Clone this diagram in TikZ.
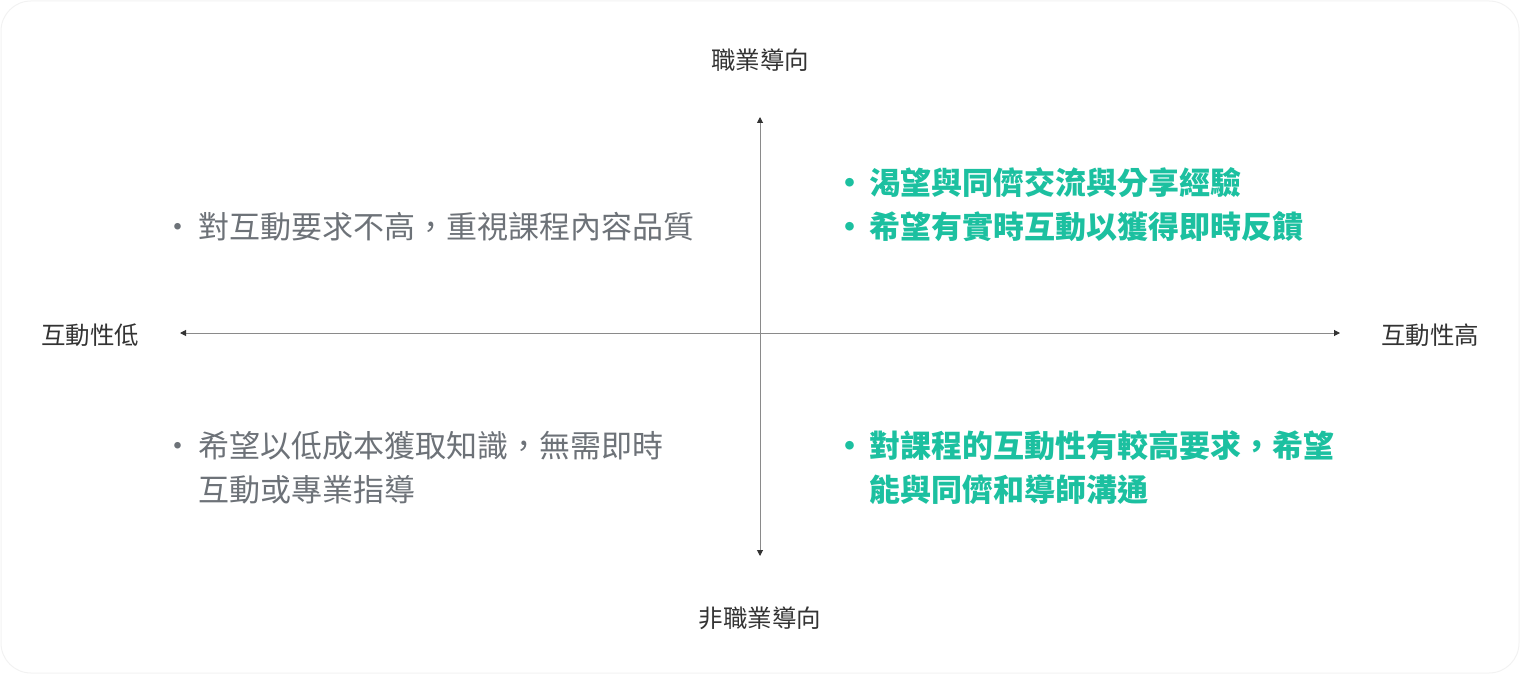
\documentclass[tikz,border=0pt]{standalone}
\usepackage{fontspec}
\setmainfont{Noto Sans CJK TC}
\usetikzlibrary{arrows.meta}
\definecolor{teal1}{HTML}{1CC0A0}
\definecolor{graytxt}{HTML}{6D7278}
\definecolor{labtxt}{HTML}{333333}
\definecolor{axisgray}{HTML}{8A8A8A}
\definecolor{bordergray}{HTML}{F2F2F2}
\tikzset{
  axislabel/.style={inner sep=0pt, text=labtxt, font=\fontsize{24.5}{28}\selectfont},
  graytext/.style={inner sep=0pt, anchor=base west, text=graytxt, font=\fontsize{31}{44}\selectfont},
  tealtext/.style={inner sep=0pt, anchor=base west, text=teal1, font=\fontsize{31}{44}\selectfont\bfseries},
  axisline/.style={draw=axisgray, line width=1pt, {Triangle[length=6pt,width=6pt,color=black!80]}-{Triangle[length=6pt,width=6pt,color=black!80]}},
}
\begin{document}
\begin{tikzpicture}[x=1pt,y=-1pt]
\useasboundingbox (0,0) rectangle (1520,674);
\draw[bordergray, line width=1pt, rounded corners=30pt] (1,1) rectangle (1519,673);

\coordinate (L) at (180,333);
\coordinate (R) at (1340,333);
\coordinate (T) at (760,117);
\coordinate (B) at (760,556);
\draw[axisline] (L) -- (R);
\draw[axisline] (B) -- (T);

\node[axislabel] (top) at (760,60) {職業導向};
\node[axislabel] (bot) at (760,618) {非職業導向};
\node[axislabel] (left) at (90,335) {互動性低};
\node[axislabel] (right) at (1430,335) {互動性高};

% top-left
\node[graytext] (tlb) at (162,238) {•};
\node[graytext] (tl1) at (198,238) {對互動要求不高，重視課程內容品質};
% bottom-left
\node[graytext] (blb) at (162,457) {•};
\node[graytext] (bl1) at (198,457) {希望以低成本獲取知識，無需即時};
\node[graytext] (bl2) at (198,501) {互動或專業指導};
% top-right
\node[tealtext] (trb1) at (834,194) {•};
\node[tealtext] (tr1) at (869,194) {渴望與同儕交流與分享經驗};
\node[tealtext] (trb2) at (834,238) {•};
\node[tealtext] (tr2) at (869,238) {希望有實時互動以獲得即時反饋};
% bottom-right
\node[tealtext] (brb) at (834,457) {•};
\node[tealtext] (br1) at (869,457) {對課程的互動性有較高要求，希望};
\node[tealtext] (br2) at (869,501) {能與同儕和導師溝通};
\end{tikzpicture}
\end{document}
